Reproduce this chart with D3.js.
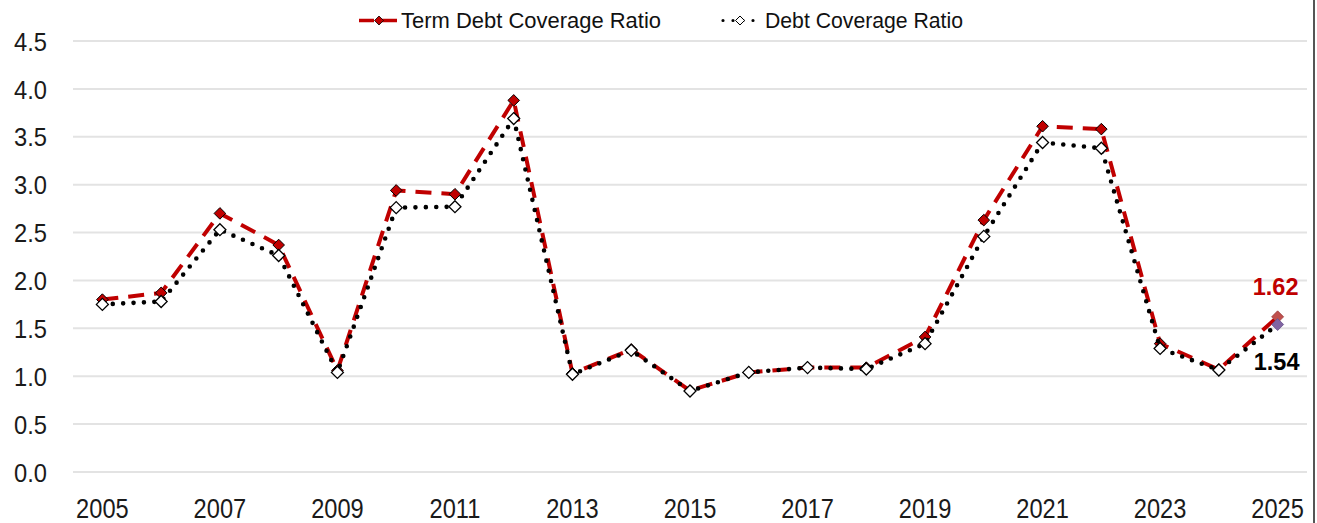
<!DOCTYPE html>
<html>
<head>
<meta charset="utf-8">
<script src="https://cdn.jsdelivr.net/npm/d3@7"></script>
<style>
  html, body { margin: 0; padding: 0; background: #fff; }
  svg { display: block; }
  text { font-family: "Liberation Sans", Arial, sans-serif; }
</style>
</head>
<body>
<svg id="chart" width="1317" height="523"></svg>
<script>
// Fiscal years shown on the horizontal axis
const years = [2005, 2006, 2007, 2008, 2009, 2010, 2011, 2012, 2013, 2014, 2015,
               2016, 2017, 2018, 2019, 2020, 2021, 2022, 2023, 2024, 2025];

// Term debt coverage ratio by year
const termDebtCoverage = [1.80, 1.87, 2.70, 2.37, 1.06, 2.94, 2.90, 3.88, 1.03, 1.28, 0.85,
                          1.04, 1.09, 1.09, 1.41, 2.63, 3.61, 3.58, 1.34, 1.07, 1.62];

// Total debt coverage ratio by year
const debtCoverage = [1.75, 1.78, 2.53, 2.26, 1.04, 2.76, 2.77, 3.69, 1.02, 1.27, 0.845,
                      1.04, 1.09, 1.075, 1.34, 2.46, 3.44, 3.38, 1.29, 1.065, 1.54];

// Axis tick values
const yTicks = [0, 0.5, 1.0, 1.5, 2.0, 2.5, 3.0, 3.5, 4.0, 4.5];
const xTickYears = [2005, 2007, 2009, 2011, 2013, 2015, 2017, 2019, 2021, 2023, 2025];

const seriesNames = ["Term Debt Coverage Ratio", "Debt Coverage Ratio"];

const svg = d3.select("#chart");

const x = d3.scaleBand().domain(years).range([73, 1307]).padding(0);
const cx = d => x(d) + x.bandwidth() / 2;
const y = d3.scaleLinear().domain([0, 4.5]).range([472, 41]);

// Horizontal gridlines
svg.append("g")
  .selectAll("line")
  .data(yTicks)
  .join("line")
  .attr("x1", 73).attr("x2", 1307)
  .attr("y1", d => y(d)).attr("y2", d => y(d))
  .attr("stroke", "#e3e3e3")
  .attr("stroke-width", 2);

// Y axis labels (slightly condensed face)
const yAxis = d3.axisLeft(y).tickValues(yTicks).tickFormat(d3.format(".1f")).tickSize(0).tickPadding(0);
svg.append("g")
  .attr("transform", "translate(47,1)")
  .call(yAxis)
  .call(g => g.select(".domain").remove())
  .call(g => g.selectAll("text")
    .attr("font-size", 25.5)
    .attr("fill", "#1a1a1a")
    .attr("transform", "scale(0.93,1)")
    .attr("font-family", "'Liberation Sans', Arial, sans-serif"));

// X axis labels (every other year, condensed face)
const xAxis = d3.axisBottom(x).tickValues(xTickYears).tickSize(0).tickPadding(0);
svg.append("g")
  .attr("transform", "translate(0,518)")
  .call(xAxis)
  .call(g => g.select(".domain").remove())
  .call(g => g.selectAll("text")
    .attr("font-size", 27.5)
    .attr("fill", "#1a1a1a")
    .attr("dy", "0")
    .attr("y", 0)
    .attr("transform", "scale(0.86,1)")
    .attr("font-family", "'Liberation Sans', Arial, sans-serif"));

// Square diamond marker path
const diamond = s => `M0,${-s}L${s},0L0,${s}L${-s},0Z`;

const line = d3.line().x(d => cx(d.year)).y(d => y(d.value));
const tdData = years.map((yr, i) => ({ year: yr, value: termDebtCoverage[i] }));
const dcData = years.map((yr, i) => ({ year: yr, value: debtCoverage[i] }));
const last = years.length - 1;

// Term debt coverage: red dashed line with dark-red diamonds
svg.append("path")
  .datum(tdData)
  .attr("d", line)
  .attr("fill", "none")
  .attr("stroke", "#c00000")
  .attr("stroke-width", 4)
  .attr("stroke-dasharray", "16,10")
  .attr("stroke-linejoin", "round");

svg.append("g")
  .selectAll("path")
  .data(tdData.slice(0, last))
  .join("path")
  .attr("transform", d => `translate(${cx(d.year)},${y(d.value)})`)
  .attr("d", diamond(5.8))
  .attr("fill", "#c00000")
  .attr("stroke", "#000")
  .attr("stroke-width", 1);

// Debt coverage: black round-dot line with open diamonds
svg.append("path")
  .datum(dcData)
  .attr("d", line)
  .attr("fill", "none")
  .attr("stroke", "#000")
  .attr("stroke-width", 4.6)
  .attr("stroke-linecap", "round")
  .attr("stroke-dasharray", "0,10.4");

svg.append("g")
  .selectAll("path")
  .data(dcData.slice(0, last))
  .join("path")
  .attr("transform", d => `translate(${cx(d.year)},${y(d.value)})`)
  .attr("d", diamond(6))
  .attr("fill", "#fff")
  .attr("stroke", "#000")
  .attr("stroke-width", 1.3);

// Latest-year highlight markers
svg.append("path")
  .attr("transform", `translate(${cx(years[last])},${y(termDebtCoverage[last])})`)
  .attr("d", diamond(6))
  .attr("fill", "#c0504d")
  .attr("stroke", "#9a3f3d")
  .attr("stroke-width", 0.8);

svg.append("path")
  .attr("transform", `translate(${cx(years[last])},${y(debtCoverage[last])})`)
  .attr("d", diamond(6))
  .attr("fill", "#8064a2")
  .attr("stroke", "#66508a")
  .attr("stroke-width", 0.8);

// Latest-year value labels
svg.append("text")
  .attr("x", cx(years[last]) - 2)
  .attr("y", y(termDebtCoverage[last]) - 22)
  .attr("text-anchor", "middle")
  .attr("font-size", 23.5)
  .attr("font-weight", "bold")
  .attr("fill", "#c00000")
  .text(d3.format(".2f")(termDebtCoverage[last]));

svg.append("text")
  .attr("x", cx(years[last]) - 1)
  .attr("y", y(debtCoverage[last]) + 45.5)
  .attr("text-anchor", "middle")
  .attr("font-size", 23.5)
  .attr("font-weight", "bold")
  .attr("fill", "#000")
  .text(d3.format(".2f")(debtCoverage[last]));

// Legend
const legend = svg.append("g");

// Term debt entry
legend.append("line")
  .attr("x1", 359).attr("x2", 397).attr("y1", 20.5).attr("y2", 20.5)
  .attr("stroke", "#c00000").attr("stroke-width", 3.5)
  .attr("stroke-dasharray", "15,8");
legend.append("path")
  .attr("transform", "translate(379,20.5)")
  .attr("d", diamond(4.5))
  .attr("fill", "#c00000").attr("stroke", "#000").attr("stroke-width", 0.8);
legend.append("text")
  .attr("x", 401).attr("y", 28)
  .attr("font-size", 22.5).attr("fill", "#111")
  .attr("textLength", 260).attr("lengthAdjust", "spacingAndGlyphs")
  .text(seriesNames[0]);

// Debt coverage entry
legend.append("line")
  .attr("x1", 723).attr("x2", 757).attr("y1", 20.5).attr("y2", 20.5)
  .attr("stroke", "#000").attr("stroke-width", 3.2)
  .attr("stroke-linecap", "round")
  .attr("stroke-dasharray", "0,10");
legend.append("path")
  .attr("transform", "translate(740,20.5)")
  .attr("d", diamond(4.5))
  .attr("fill", "#fff").attr("stroke", "#000").attr("stroke-width", 1);
legend.append("text")
  .attr("x", 765).attr("y", 28)
  .attr("font-size", 22.5).attr("fill", "#111")
  .attr("textLength", 198).attr("lengthAdjust", "spacingAndGlyphs")
  .text(seriesNames[1]);

// Right border of the chart frame
svg.append("line")
  .attr("x1", 1314).attr("x2", 1314).attr("y1", 0).attr("y2", 523)
  .attr("stroke", "#555").attr("stroke-width", 2);
</script>
</body>
</html>
